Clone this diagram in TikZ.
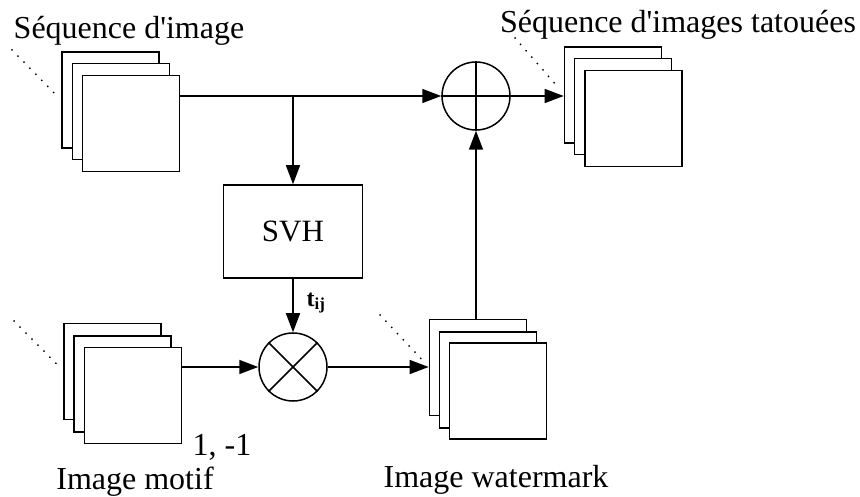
\documentclass[tikz,border=0pt]{standalone}
\usepackage{fontspec}
\setmainfont{Liberation Serif}
\usetikzlibrary{arrows.meta,positioning,calc}

\begin{document}
\begin{tikzpicture}[
    x=1pt, y=-1pt,
    frame/.style={draw, fill=white, line width=1.7pt, minimum width=97pt, minimum height=96pt, inner sep=0pt},
    op/.style={draw, circle, line width=1.5pt, minimum size=68pt, inner sep=0pt},
    block/.style={draw, line width=1.5pt, minimum width=139pt, minimum height=93pt, font=\fontsize{31}{36}\selectfont},
    txt/.style={inner sep=0pt, font=\fontsize{32}{38}\selectfont},
    arrow/.style={-{Triangle[length=19pt,width=14pt]}, line width=1.5pt},
    dots/.style={line width=2pt, line cap=round, dash pattern=on 0pt off 8.5pt},
]
    \useasboundingbox (0,0) rectangle (860,497);

    % Image stacks
    \node[frame] (s1) at (110.5,100) {};
    \node[frame] (s2) at (121,111.5) {};
    \node[frame] (s3) at (131,123.5) {};

    \node[frame] (t1) at (613,95) {};
    \node[frame] (t2) at (623,106.5) {};
    \node[frame] (t3) at (633.5,118.5) {};

    \node[frame] (m1) at (112.5,371.5) {};
    \node[frame] (m2) at (122.5,384) {};
    \node[frame] (m3) at (133,395.5) {};

    \node[frame] (w1) at (478,367.5) {};
    \node[frame] (w2) at (488,380) {};
    \node[frame] (w3) at (498,391) {};

    % Operators
    \node[op] (plus) at (476,96) {};
    \node[op] (times) at (293,367) {};
    \draw[line width=1.5pt] (plus.north) -- (plus.south) (plus.west) -- (plus.east);
    \draw[line width=1.5pt] (times.north west) -- (times.south east) (times.north east) -- (times.south west);

    \node[block] (svh) at (293,231.5) {SVH};

    % Labels
    \node[txt] (seq) at (129,31) {Séquence d\textquotesingle image};
    \node[txt] (seqtat) at (678,25) {Séquence d\textquotesingle images tatouées};
    \node[txt] (motif) at (135,482) {Image motif};
    \node[txt] (wmark) at (496,480) {Image watermark};
    \node[txt] (vals) at (222,447) {1, -1};
    \node[inner sep=0pt, font=\fontsize{24}{28}\selectfont] (tij) at (316,303) {\textbf{t}\textsubscript{\textbf{ij}}};

    % Dotted marks
    \coordinate (d1) at (12,50);
    \coordinate (d2) at (515,38);
    \coordinate (d3) at (14,321);
    \coordinate (d4) at (380,315);
    \draw[dots] (d1) -- ($(s1.west)+(-4,-4)$);
    \draw[dots] (d2) -- ($(t1.west)+(-4,-6)$);
    \draw[dots] (d3) -- ($(m1.west)+(-3,-4)$);
    \draw[dots] (d4) -- ($(w1.west)+(-4,-5)$);

    \coordinate (branch) at (svh.north |- plus);
    \draw[arrow] (s3.east |- plus) -- (plus);
    \draw[arrow] (branch) -- (svh);
    \draw[arrow] (plus) -- (plus -| t1.west);
    \draw[arrow] (svh) -- (times);
    \draw[arrow] (m3.east |- times) -- (times);
    \draw[arrow] (times) -- (times -| w1.west);
    \draw[arrow] (w1.north -| plus) -- (plus);
\end{tikzpicture}
\end{document}
